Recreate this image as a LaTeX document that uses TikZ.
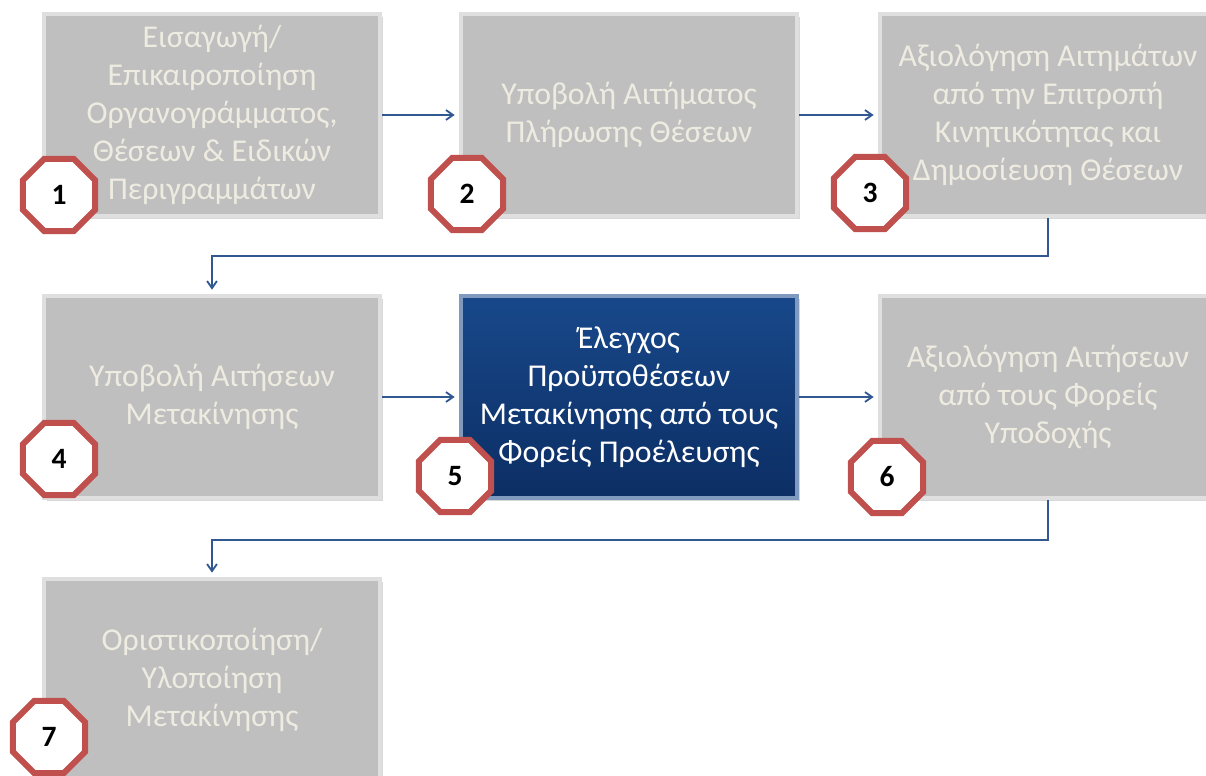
\documentclass[tikz,border=0pt]{standalone}
\usepackage{fontspec}
\setmainfont{Carlito}
\usetikzlibrary{shapes.geometric,shadows,arrows.meta}

\definecolor{stagegray}{RGB}{191,191,191}
\definecolor{stagetext}{RGB}{238,236,225}
\definecolor{stageblue}{RGB}{24,72,138}
\definecolor{stagebluedark}{RGB}{12,46,100}
\definecolor{flowblue}{RGB}{50,88,145}
\definecolor{badgered}{RGB}{192,80,77}

\tikzset{
    stage/.style={rectangle, minimum width=8.4cm, minimum height=5.05cm,
        fill=stagegray, draw=gray!25, line width=3pt, text=stagetext,
        align=center, font=\fontsize{22.6}{27}\selectfont,
        drop shadow={opacity=0.3, shadow xshift=2pt, shadow yshift=-2pt}},
    current/.style={stage, top color=stageblue, bottom color=stagebluedark,
        draw=stageblue!55!white, text=white},
    badge/.style={regular polygon, regular polygon sides=8, minimum size=1.95cm,
        inner sep=0pt, fill=white, draw=badgered, line width=4.3pt,
        font=\fontsize{21}{22}\selectfont\bfseries, text=black},
    flow/.style={-{Straight Barb[length=5pt,width=7pt]}, draw=flowblue,
        line width=1.3pt, shorten >=3pt}
}

\begin{document}
\begin{tikzpicture}[x=0.025cm, y=-0.025cm]
    \useasboundingbox (0,0) rectangle (1206,776);
    \fill[white] (0,0) rectangle (1206,776);
    \clip (0,0) rectangle (1206,776);

    % stages
    \node[stage] (s1) at (212,115) {Εισαγωγή/\\Επικαιροποίηση\\Οργανογράμματος,\\Θέσεων \& Ειδικών\\Περιγραμμάτων};
    \node[stage] (s2) at (629,115) {Υποβολή Αιτήματος\\Πλήρωσης Θέσεων};
    \node[stage] (s3) at (1048,115) {Αξιολόγηση Αιτημάτων\\από την Επιτροπή\\Κινητικότητας και\\Δημοσίευση Θέσεων};
    \node[stage] (s4) at (212,397) {Υποβολή Αιτήσεων\\Μετακίνησης};
    \node[current] (s5) at (629,397) {Έλεγχος\\Προϋποθέσεων\\Μετακίνησης από τους\\Φορείς Προέλευσης};
    \node[stage] (s6) at (1048,397) {Αξιολόγηση Αιτήσεων\\από τους Φορείς\\Υποδοχής};
    \node[stage] (s7) at (212,680) {Οριστικοποίηση/\\Υλοποίηση\\Μετακίνησης};

    % connectors
    \draw[flow] (s1) -- (s2);
    \draw[flow] (s2) -- (s3);
    \draw[flow] (s3.south) -- ++(0,38) -| (s4.north);
    \draw[flow] (s4) -- (s5);
    \draw[flow] (s5) -- (s6);
    \draw[flow] (s6.south) -- ++(0,40) -| (s7.north);

    % numbers
    \node[badge] (n1) at (59,195) {1};
    \node[badge] (n2) at (467,194) {2};
    \node[badge] (n3) at (870,193) {3};
    \node[badge] (n4) at (59,459) {4};
    \node[badge] (n5) at (455,476) {5};
    \node[badge] (n6) at (887,477) {6};
    \node[badge] (n7) at (49,737) {7};
\end{tikzpicture}
\end{document}
